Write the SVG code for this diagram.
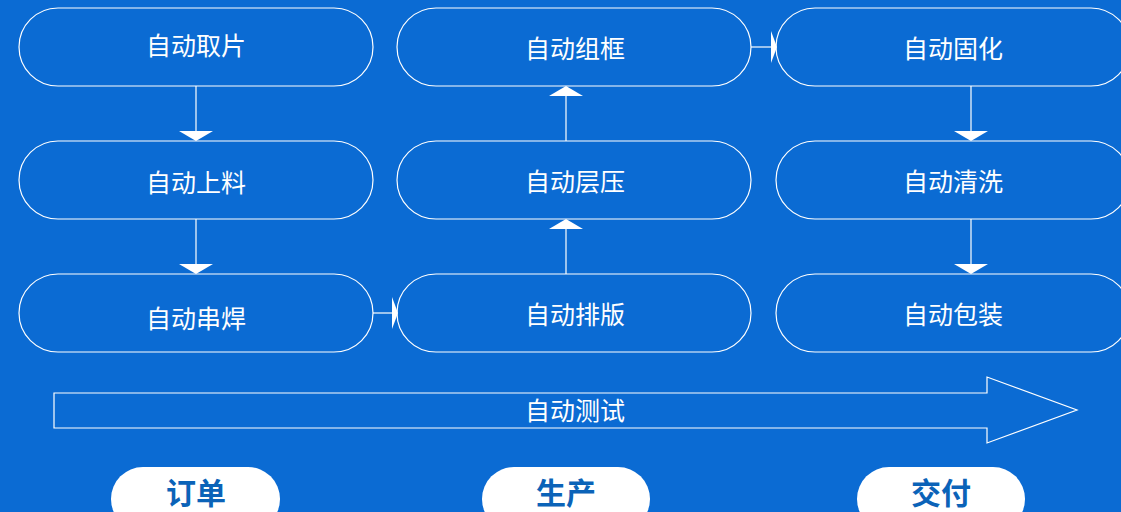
<svg xmlns="http://www.w3.org/2000/svg" width="1121" height="512" viewBox="0 0 1121 512">
<style>
.node rect{fill:none;stroke:#ffffff;stroke-width:1.2}
.node text{fill:#ffffff;font-family:"Noto Sans CJK SC","Noto Sans",sans-serif;font-size:25px;text-anchor:middle;dominant-baseline:central}
.line{stroke:#ffffff;stroke-width:1.2;fill:none}
.head{fill:#ffffff}
.pill rect{fill:#ffffff}
.pill text{fill:#0b63b8;font-family:"Noto Sans CJK SC","Noto Sans",sans-serif;font-size:30px;font-weight:bold;text-anchor:middle;dominant-baseline:central}
</style>
<rect width="1121" height="512" fill="#0b6bd3"/>
<g id="connectors">
<line class="line" x1="196" y1="86" x2="196" y2="138"/>
<polygon class="head" points="179,131 213,131 196,141"/>
<line class="line" x1="196" y1="219" x2="196" y2="271"/>
<polygon class="head" points="179,264 213,264 196,274"/>
<line class="line" x1="373" y1="313" x2="395" y2="313"/>
<polygon class="head" points="392,297 398,313 392,329"/>
<line class="line" x1="566" y1="274" x2="566" y2="223"/>
<polygon class="head" points="549,229 583,229 566,219"/>
<line class="line" x1="566" y1="141" x2="566" y2="90"/>
<polygon class="head" points="549,96 583,96 566,86"/>
<line class="line" x1="751" y1="47" x2="774" y2="47"/>
<polygon class="head" points="771,31 777,47 771,63"/>
<line class="line" x1="971" y1="86" x2="971" y2="138"/>
<polygon class="head" points="954,131 988,131 971,141"/>
<line class="line" x1="971" y1="219" x2="971" y2="271"/>
<polygon class="head" points="954,264 988,264 971,274"/>
</g>
<g id="n1" class="node"><rect x="19" y="8" width="354" height="78" rx="39"/><text x="196" y="44">自动取片</text></g>
<g id="n2" class="node"><rect x="19" y="141" width="354" height="78" rx="39"/><text x="196" y="181">自动上料</text></g>
<g id="n3" class="node"><rect x="19" y="274" width="354" height="78" rx="39"/><text x="196" y="317">自动串焊</text></g>
<g id="n4" class="node"><rect x="397" y="274" width="354" height="78" rx="39"/><text x="575" y="313">自动排版</text></g>
<g id="n5" class="node"><rect x="397" y="141" width="354" height="78" rx="39"/><text x="575" y="180">自动层压</text></g>
<g id="n6" class="node"><rect x="397" y="8" width="354" height="78" rx="39"/><text x="575" y="47">自动组框</text></g>
<g id="n7" class="node"><rect x="776" y="8" width="354" height="78" rx="39"/><text x="953" y="47">自动固化</text></g>
<g id="n8" class="node"><rect x="776" y="141" width="354" height="78" rx="39"/><text x="953" y="180">自动清洗</text></g>
<g id="n9" class="node"><rect x="776" y="274" width="354" height="78" rx="39"/><text x="953" y="313">自动包装</text></g>
<g id="test" class="node"><polygon points="54,393 987,393 987,377 1077,410 987,443 987,428 54,428" fill="none" stroke="#ffffff" stroke-width="1.2"/><text x="575" y="409">自动测试</text></g>
<g id="p1" class="pill"><rect x="111" y="467" width="169" height="64" rx="32"/><text x="196" y="491">订单</text></g>
<g id="p2" class="pill"><rect x="482" y="467" width="168" height="64" rx="32"/><text x="566" y="491">生产</text></g>
<g id="p3" class="pill"><rect x="857" y="467" width="168" height="64" rx="32"/><text x="941" y="491">交付</text></g>
</svg>
